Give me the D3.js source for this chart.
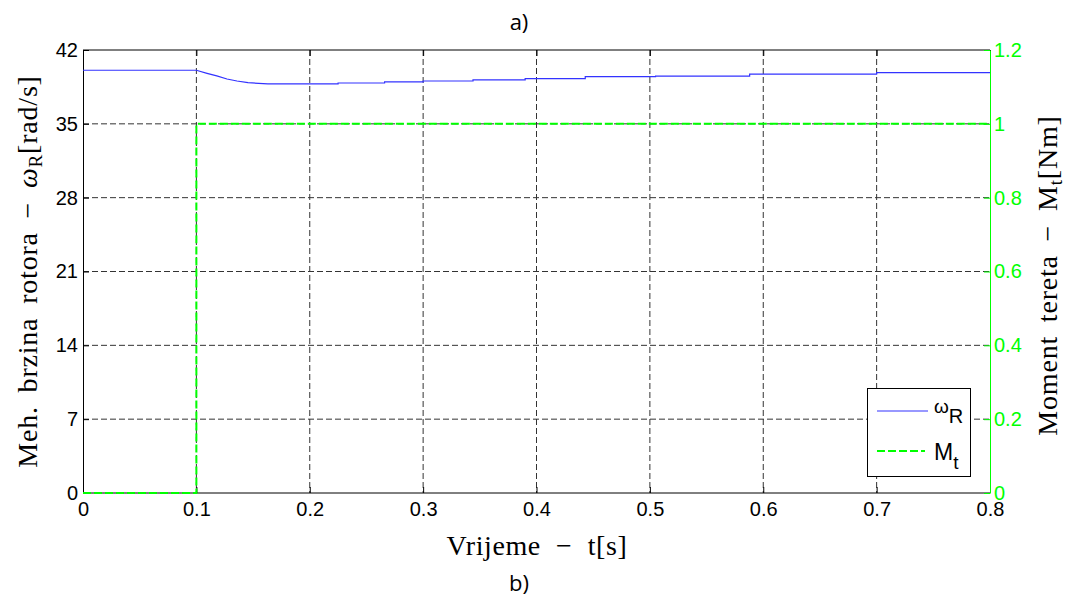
<!DOCTYPE html>
<html><head><meta charset="utf-8">
<script src="https://cdn.jsdelivr.net/npm/d3@7"></script>
<style>body{margin:0;background:#fff}</style>
</head><body>
<svg id="c" width="1069" height="603"></svg>
<script>
// Data
const timeTicks = [0,0.1,0.2,0.3,0.4,0.5,0.6,0.7,0.8];
const leftTicks = [0,7,14,21,28,35,42];
const rightTicks = [0,0.2,0.4,0.6,0.8,1,1.2];
const omegaT = [0,0.1,0.1094,0.118,0.127,0.1358,0.1455,0.163,0.225,0.225,0.266,0.266,0.300,0.300,0.344,0.344,0.390,0.390,0.443,0.443,0.505,0.505,0.588,0.588,0.700,0.700,0.8];
const omegaV = [40.08,40.08,39.79,39.54,39.25,39.06,38.90,38.78,38.78,38.87,38.87,38.97,38.97,39.06,39.06,39.16,39.16,39.28,39.28,39.47,39.47,39.53,39.53,39.72,39.72,39.85,39.85];
const momentT = [0,0.1,0.1,0.8];
const momentV = [0,0,1,1];

const svg = d3.select("#c");
const L=83,R=990,T=50,B=493;
const x = d3.scaleLinear().domain([0,0.8]).range([L,R]);
const yL = d3.scaleLinear().domain([0,42]).range([B,T]);
const yR = d3.scaleLinear().domain([0,1.2]).range([B,T]);
const green="#00ff00", blue="#3333ff";

// grid
const g = svg.append("g");
timeTicks.slice(1,-1).forEach(t=>g.append("line").attr("x1",x(t)).attr("x2",x(t)).attr("y1",T).attr("y2",B)
  .attr("stroke","#333").attr("stroke-width",1).attr("stroke-dasharray","6,3"));
leftTicks.slice(1,-1).forEach(v=>g.append("line").attr("x1",L).attr("x2",R).attr("y1",yL(v)).attr("y2",yL(v))
  .attr("stroke","#333").attr("stroke-width",1).attr("stroke-dasharray","6,3"));

// box
svg.append("line").attr("x1",L).attr("x2",R).attr("y1",T).attr("y2",T).attr("stroke","#000");
svg.append("line").attr("x1",L).attr("x2",R).attr("y1",B).attr("y2",B).attr("stroke","#000");

// axes
const fontTick = "'Liberation Sans', Arial, sans-serif";
const xAx = svg.append("g").attr("transform",`translate(0,${B})`)
  .call(d3.axisBottom(x).tickValues(timeTicks).tickFormat(d3.format("")).tickSizeInner(-6).tickSizeOuter(0).tickPadding(11));
xAx.select(".domain").remove();
xAx.selectAll("text").attr("font-family",fontTick).attr("font-size",20).attr("fill","#000").attr("dy","0.62em");
svg.append("g").attr("transform",`translate(0,${T})`)
  .call(d3.axisTop(x).tickValues(timeTicks).tickFormat("").tickSizeInner(-6).tickSizeOuter(0))
  .select(".domain").remove();

const yAx = svg.append("g").attr("transform",`translate(${L},0)`)
  .call(d3.axisLeft(yL).tickValues(leftTicks).tickSizeInner(-6).tickSizeOuter(0).tickPadding(5));
yAx.selectAll("text").attr("font-family",fontTick).attr("font-size",20).attr("fill","#000");
yAx.select(".domain").attr("stroke","#000");

const yAxR = svg.append("g").attr("transform",`translate(${R},0)`)
  .call(d3.axisRight(yR).tickValues(rightTicks).tickFormat(d3.format("")).tickSizeInner(-6).tickSizeOuter(0).tickPadding(4));
yAxR.selectAll("text").attr("font-family",fontTick).attr("font-size",20).attr("fill",green);
yAxR.selectAll("line").attr("stroke",green);
yAxR.select(".domain").attr("stroke",green);

// lines
const omega = omegaT.map((t,i)=>[t,omegaV[i]]);
const moment = momentT.map((t,i)=>[t,momentV[i]]);
svg.append("path").datum(omega).attr("fill","none").attr("stroke",blue).attr("stroke-width",1.2)
  .attr("d",d3.line().x(d=>x(d[0])).y(d=>yL(d[1])));
svg.append("path").datum(moment).attr("fill","none").attr("stroke",green).attr("stroke-width",2)
  .attr("stroke-dasharray","8,3")
  .attr("d",d3.line().x(d=>x(d[0])).y(d=>yR(d[1])));

// labels
const serif="'Liberation Serif','DejaVu Serif',serif";
const xl = svg.append("text").attr("x",537).attr("y",555).attr("text-anchor","middle")
  .attr("font-family",serif).attr("font-size",28).attr("letter-spacing",0.6).attr("fill","#000")
  .attr("xml:space","preserve");
xl.text("Vrijeme  \u2212  t[s]");

const ylab = svg.append("text").attr("transform",`translate(37,${(T+B)/2}) rotate(-90)`).attr("text-anchor","middle")
  .attr("font-family",serif).attr("font-size",28).attr("letter-spacing",0.8).attr("word-spacing",6).attr("fill","#000");
ylab.append("tspan").text("Meh. brzina rotora  \u2212 ");
ylab.append("tspan").attr("font-style","italic").text("ω");
ylab.append("tspan").attr("font-size",19).attr("dy",5).text("R");
ylab.append("tspan").attr("dy",-5).text("[rad/s]");

const yrlab = svg.append("text").attr("transform",`translate(1057,${(T+B)/2 + 4}) rotate(-90)`).attr("text-anchor","middle")
  .attr("font-family",serif).attr("font-size",28).attr("letter-spacing",0.8).attr("word-spacing",6).attr("fill","#000");
yrlab.append("tspan").text("Moment tereta  \u2212  M");
yrlab.append("tspan").attr("font-size",19).attr("dy",5).text("t");
yrlab.append("tspan").attr("dy",-5).text("[Nm]");

const sans="'Open Sans','Noto Sans',sans-serif";
svg.append("text").attr("x",519).attr("y",30).attr("text-anchor","middle").attr("font-family",sans).attr("font-size",22).text("a)");
svg.append("text").attr("x",519).attr("y",591).attr("text-anchor","middle").attr("font-family",sans).attr("font-size",22).text("b)");

// legend
const lg = svg.append("g");
lg.append("rect").attr("x",867.5).attr("y",388.5).attr("width",103).attr("height",88).attr("fill","#fff").attr("stroke","#000");
lg.append("line").attr("x1",877).attr("x2",928).attr("y1",411).attr("y2",411).attr("stroke",blue).attr("stroke-width",1.2);
lg.append("line").attr("x1",877).attr("x2",925).attr("y1",451).attr("y2",451).attr("stroke",green).attr("stroke-width",2).attr("stroke-dasharray","8,3");
const t1 = lg.append("text").attr("x",934).attr("y",413).attr("font-family",fontTick).attr("font-size",19);
t1.append("tspan").text("ω");
t1.append("tspan").attr("font-size",20).attr("dy",10).text("R");
const t2 = lg.append("text").attr("x",934).attr("y",460).attr("font-family",fontTick).attr("font-size",23);
t2.append("tspan").text("M");
t2.append("tspan").attr("font-size",19).attr("dy",9).text("t");
</script>
</body></html>
